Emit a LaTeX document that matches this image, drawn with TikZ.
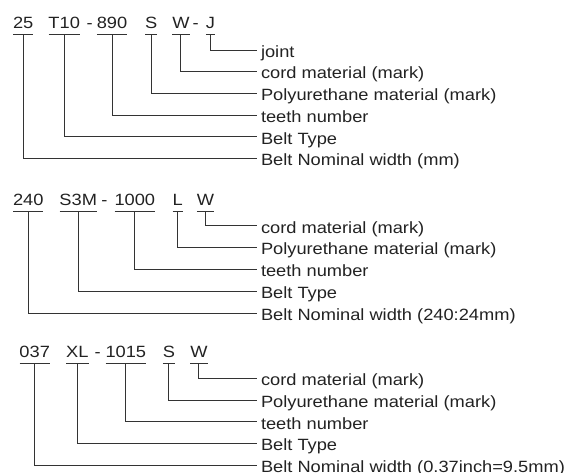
\documentclass[tikz,border=0pt]{standalone}
\usepackage{fontspec}
\setmainfont{Liberation Sans}[FakeStretch=1.12]
\definecolor{ink}{HTML}{222222}
\definecolor{wire}{HTML}{333333}
\begin{document}
\begin{tikzpicture}[x=1pt,y=-1pt,
  every node/.style={text=ink,font=\fontsize{16.3}{19}\selectfont},
  code/.style={anchor=base west,inner xsep=0pt,inner ysep=6pt,outer sep=0pt,text depth=0pt},
  sep/.style={anchor=base west,inner sep=0pt},
  lab/.style={anchor=west,inner xsep=4pt,inner ysep=0pt,outer sep=0pt,text height=15pt,text depth=0.4pt},
  uline/.style={draw=wire,line width=0.9pt},
  wirel/.style={draw=wire,line width=0.9pt}]
\useasboundingbox (0,0) rectangle (571,472);
% ---------- block 1 ----------
\node[code] (a1) at (13.0,28.3) {25};
\node[code] (a2) at (48.5,28.3) {T10};
\node[sep]  (ad1) at (86.5,28.3) {-};
\node[code] (a3) at (96.8,28.3) {890};
\node[code] (a4) at (145.0,28.3) {S};
\node[code] (a5) at (172.3,28.3) {W};
\node[sep]  (ad2) at (192.5,28.3) {-};
\node[code] (a6) at (205.8,28.3) {J};
\node[lab] (al6) at (257,50.0) {joint};
\node[lab] (al5) at (257,71.5) {cord material (mark)};
\node[lab] (al4) at (257,93.3) {Polyurethane material (mark)};
\node[lab] (al3) at (257,115.0) {teeth number};
\node[lab] (al2) at (257,136.7) {Belt Type};
\node[lab] (al1) at (257,158.3) {Belt Nominal width (mm)};
\foreach \i in {1,...,6}{
  \draw[uline] (a\i.south west) -- (a\i.south east);
  \draw[wirel] (a\i.south) |- (al\i.west);
}
% ---------- block 2 ----------
\node[code] (b1) at (13.0,205.0) {240};
\node[code] (b2) at (59.5,205.0) {S3M};
\node[sep]  (bd1) at (101.2,205.0) {-};
\node[code] (b3) at (114.5,205.0) {1000};
\node[code] (b4) at (172.5,205.0) {L};
\node[code] (b5) at (196.8,205.0) {W};
\node[lab] (bl5) at (257,225.7) {cord material (mark)};
\node[lab] (bl4) at (257,247.3) {Polyurethane material (mark)};
\node[lab] (bl3) at (257,269.0) {teeth number};
\node[lab] (bl2) at (257,291.0) {Belt Type};
\node[lab] (bl1) at (257,313.3) {Belt Nominal width (240:24mm)};
\foreach \i in {1,...,5}{
  \draw[uline] (b\i.south west) -- (b\i.south east);
  \draw[wirel] (b\i.south) |- (bl\i.west);
}
% ---------- block 3 ----------
\node[code] (c1) at (19.5,357.0) {037};
\node[code] (c2) at (66.2,357.0) {XL};
\node[sep]  (cd1) at (94.5,357.0) {-};
\node[code] (c3) at (105.5,357.0) {1015};
\node[code] (c4) at (162.8,357.0) {S};
\node[code] (c5) at (190.3,357.0) {W};
\node[lab] (cl5) at (257,378.3) {cord material (mark)};
\node[lab] (cl4) at (257,400.0) {Polyurethane material (mark)};
\node[lab] (cl3) at (257,421.7) {teeth number};
\node[lab] (cl2) at (257,443.3) {Belt Type};
\node[lab] (cl1) at (257,465.0) {Belt Nominal width (0.37inch=9.5mm)};
\foreach \i in {1,...,5}{
  \draw[uline] (c\i.south west) -- (c\i.south east);
  \draw[wirel] (c\i.south) |- (cl\i.west);
}
\end{tikzpicture}
\end{document}
